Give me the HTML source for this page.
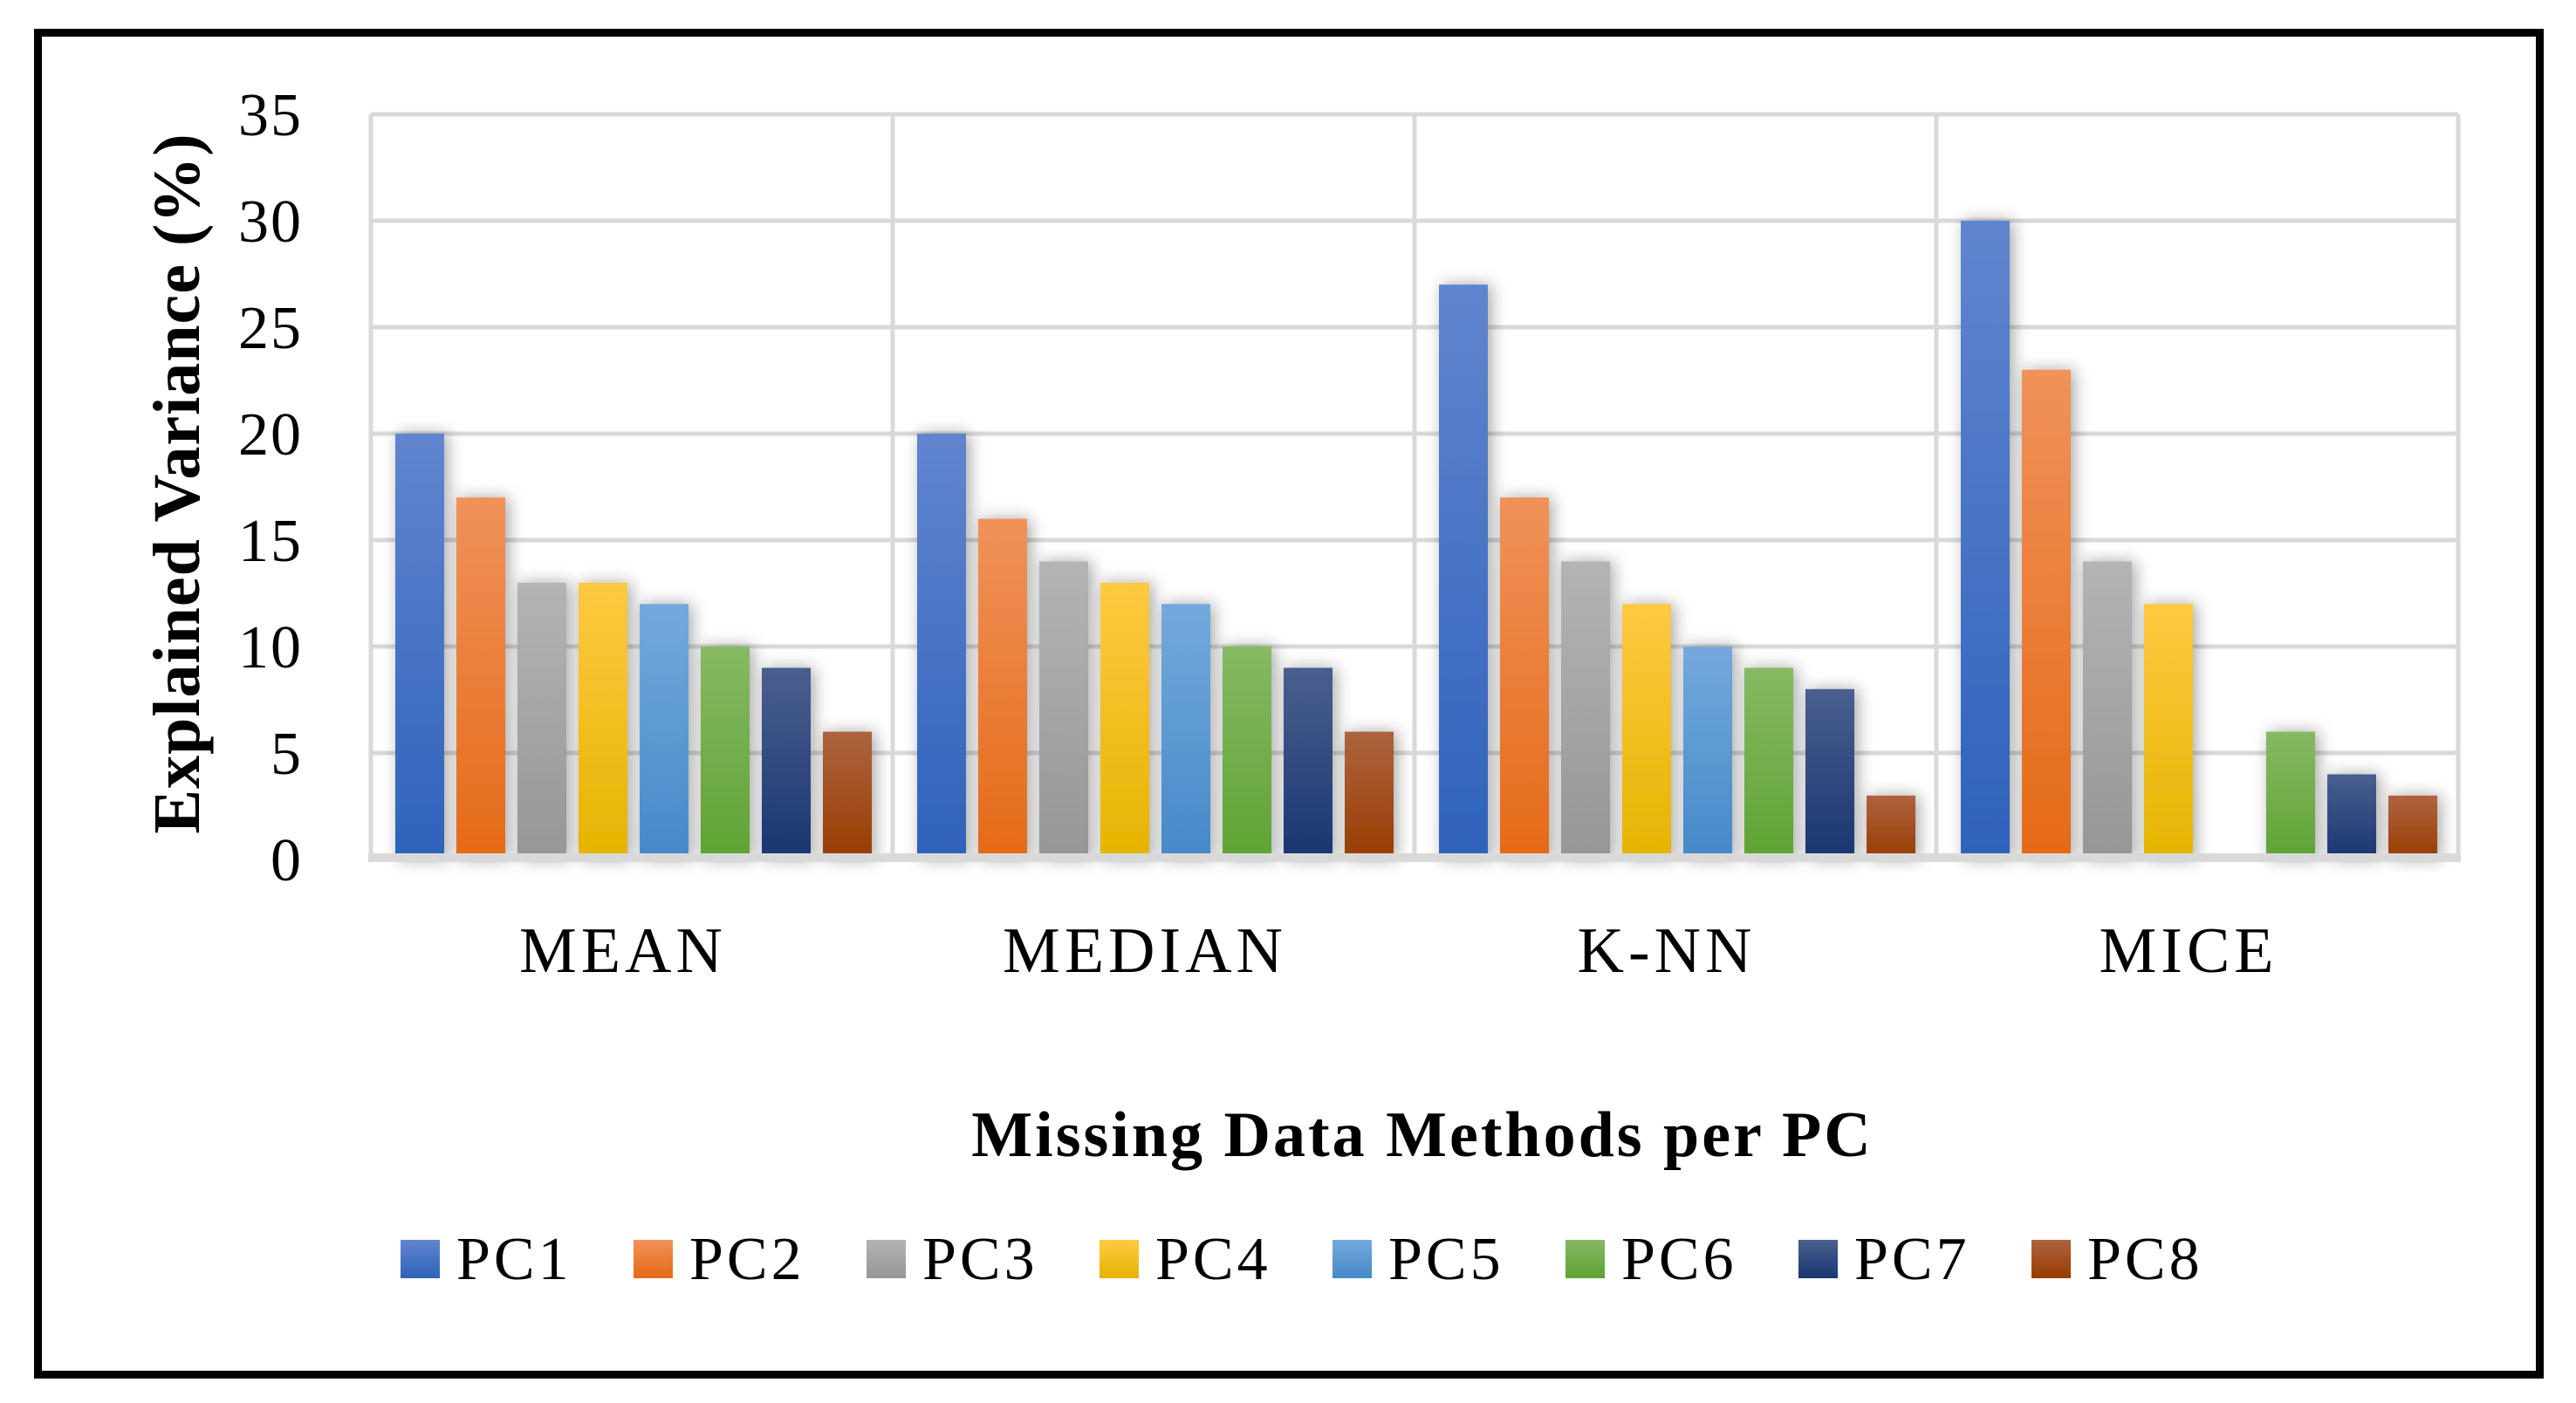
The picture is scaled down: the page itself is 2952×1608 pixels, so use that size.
<!DOCTYPE html>
<html><head><meta charset="utf-8"><style>
html,body{margin:0;padding:0;background:#fff;width:2952px;height:1608px;overflow:hidden}
svg{display:block}
text{font-family:"Liberation Serif",serif;fill:#000}
</style></head><body>
<svg id="chart" width="2952" height="1608" viewBox="0 0 2952 1608" xmlns="http://www.w3.org/2000/svg">
<defs>
<filter id="sh" x="-50%" y="-20%" width="200%" height="140%"><feDropShadow dx="4" dy="0" stdDeviation="9" flood-color="#000" flood-opacity="0.35"/></filter>
</defs>
<rect x="43.5" y="37.5" width="2867" height="1538" fill="#fff" stroke="#000" stroke-width="9"/>
<g id="grid"></g>
<g id="bars"></g>
<g id="axes"></g>
<g id="legend"></g>
</svg>
<script>
const categories = ["MEAN","MEDIAN","K-NN","MICE"];
const seriesNames = ["PC1","PC2","PC3","PC4","PC5","PC6","PC7","PC8"];
const pc1 = [20,20,27,30];
const pc2 = [17,16,17,23];
const pc3 = [13,14,14,14];
const pc4 = [13,13,12,12];
const pc5 = [12,12,10,0];
const pc6 = [10,10,9,6];
const pc7 = [9,9,8,4];
const pc8 = [6,6,3,3];
const yTicks = [0,5,10,15,20,25,30,35];
const seriesValues = [pc1,pc2,pc3,pc4,pc5,pc6,pc7,pc8];
const colorsTop = ["#6185cf","#f0925a","#b4b4b4","#ffc942","#74a9dc","#87b964","#4a5f8f","#ad6440"];
const colorsBot = ["#2e62bb","#e56a17","#969696","#e6b400","#4589c9","#5ea333","#1a3570","#983c00"];

const NS="http://www.w3.org/2000/svg";
const svg=document.getElementById('chart');
const defs=svg.querySelector('defs');
const X0=425, CW=598, Y0=985, YTOP=131, YMAX=35;
const y=v=>Y0-(v/YMAX)*(Y0-YTOP);
const xCat=i=>X0+i*CW;
const xBar=(i,s)=>xCat(i)+28+s*70;
function mk(tag,attrs,parent){const e=document.createElementNS(NS,tag);for(const k in attrs)e.setAttribute(k,attrs[k]);parent.appendChild(e);return e;}

seriesNames.forEach((n,s)=>{
  const g=mk('linearGradient',{id:'g'+s,x1:0,y1:0,x2:0,y2:1},defs);
  mk('stop',{offset:'0','stop-color':colorsTop[s]},g);
  mk('stop',{offset:'1','stop-color':colorsBot[s]},g);
});

const grid=document.getElementById('grid');
yTicks.forEach(t=>{
  if(t===0) return;
  const l=mk('line',{x1:X0,x2:X0+4*CW,y1:y(t),y2:y(t),stroke:'#d9d9d9','stroke-width':5},grid);
  
  
});
for(let i=0;i<=4;i++){
  const l=mk('line',{x1:xCat(i),x2:xCat(i),y1:YTOP,y2:Y0,stroke:'#d9d9d9','stroke-width':5},grid);
  
  
}

const bars=document.getElementById('bars');
seriesValues.forEach((vals,s)=>{
  vals.forEach((v,i)=>{
    if(v<=0) return;
    const r=mk('rect',{x:xBar(i,s),y:y(v),width:56,height:Y0-y(v),fill:'url(#g'+s+')',filter:'url(#sh)'},bars);
    
    
  });
});

const axes=document.getElementById('axes');
const base=mk('rect',{x:X0-3,y:978,width:4*CW+6,height:10,fill:'#d9d9d9'},axes);


yTicks.forEach(t=>{
  const tx=mk('text',{x:347,y:y(t)+24,'text-anchor':'end','font-size':70,'letter-spacing':2},axes);
  tx.textContent=t;
  
  
});
categories.forEach((c,i)=>{
  const tx=mk('text',{x:xCat(i)+CW/2-10,y:1114,'text-anchor':'middle','font-size':74,'letter-spacing':5},axes);
  tx.textContent=c;
  
  
});
const yt=mk('text',{x:0,y:0,'text-anchor':'middle','font-size':76,'font-weight':'bold','letter-spacing':1,transform:'translate(228,554) rotate(-90)'},axes);
yt.textContent='Explained Variance (%)';


const xt=mk('text',{x:1630,y:1325,'text-anchor':'middle','font-size':74,'font-weight':'bold','letter-spacing':3},axes);
xt.textContent='Missing Data Methods per PC';



const legend=document.getElementById('legend');
seriesNames.forEach((n,s)=>{
  const lx=459+s*267;
  const g=mk('g',{},legend);
  
  
  const r=mk('rect',{x:lx,y:1421,width:45,height:44,fill:'url(#g'+s+')'},g);
  
  
  const t=mk('text',{x:lx+64,y:1466,'font-size':70,'letter-spacing':4},g);
  t.textContent=n;
  
  
});
</script>
</body></html>
